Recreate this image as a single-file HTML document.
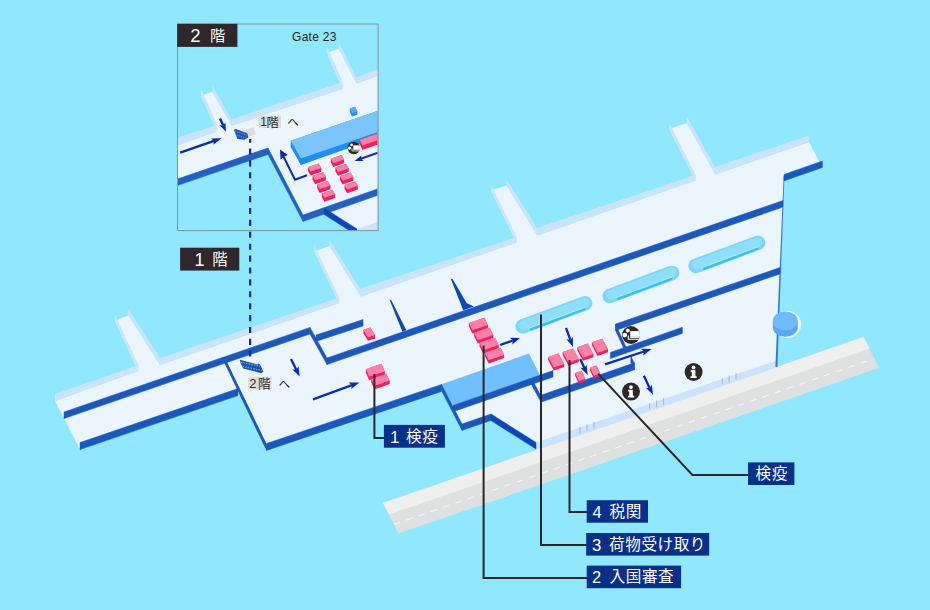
<!DOCTYPE html>
<html lang="ja"><head><meta charset="utf-8"><title>Airport floor map</title>
<style>
html,body{margin:0;padding:0;background:#90e8fe;}
body{width:930px;height:610px;overflow:hidden;font-family:"Liberation Sans","Noto Sans CJK JP",sans-serif;}
svg{display:block}
svg text{font-family:"Liberation Sans","Noto Sans CJK JP",sans-serif;}
</style></head><body>
<svg width="930" height="610" viewBox="0 0 930 610">
<rect width="930" height="610" fill="#90e8fe"/>
<polygon points="383.0,503.0 863.6,337.0 879.0,368.0 398.4,533.6" fill="#dfe0e0"/>
<polygon points="383.0,503.0 863.6,337.0 869.3,348.6 388.9,514.6" fill="#efefef"/>
<line x1="394" y1="524.4" x2="874" y2="358.7" stroke="#fafafa" stroke-width="0.9" stroke-dasharray="6.4 6.6"/>
<polygon points="55.0,401.0 138.4,371.0 160.0,365.0 339.0,303.0 361.0,296.4 516.6,242.4 537.4,235.6 695.6,180.6 715.4,174.4 809.0,142.0 822.4,167.4 784.0,181.0 776.6,366.2 536.0,449.0 491.0,420.4 462.0,430.4 444.0,390.0 266.5,450.0 240.0,394.6 80.0,449.2" fill="#eaf5fd"/>
<polygon points="115.0,321.0 128.5,315.2 160.0,365.0 162.0,369.0 140.4,375.0 138.4,371.0" fill="#eaf5fd"/>
<polygon points="115.0,315.0 115.0,321.0 138.4,371.0 138.4,365.2" fill="#cbe4fd"/>
<polygon points="128.5,309.2 128.5,315.2 160.0,365.0 160.0,358.0" fill="#cbe4fd"/>
<polygon points="314.4,251.6 329.6,246.0 361.0,296.4 363.0,300.4 341.0,307.0 339.0,303.0" fill="#eaf5fd"/>
<polygon points="314.4,245.6 314.4,251.6 339.0,303.0 339.0,297.4" fill="#cbe4fd"/>
<polygon points="329.6,240.0 329.6,246.0 361.0,296.4 360.0,289.0" fill="#cbe4fd"/>
<polygon points="491.0,190.4 506.6,185.4 537.4,235.6 539.4,239.6 518.6,246.4 516.6,242.4" fill="#eaf5fd"/>
<polygon points="491.0,184.4 491.0,190.4 516.6,242.4 516.6,237.0" fill="#cbe4fd"/>
<polygon points="506.6,179.4 506.6,185.4 537.4,235.6 537.0,228.0" fill="#cbe4fd"/>
<polygon points="669.4,129.0 687.0,123.0 715.4,174.4 717.4,178.4 697.6,184.6 695.6,180.6" fill="#eaf5fd"/>
<polygon points="669.4,123.0 669.4,129.0 695.6,180.6 695.6,175.0" fill="#cbe4fd"/>
<polygon points="687.0,117.0 687.0,123.0 715.4,174.4 715.0,167.0" fill="#cbe4fd"/>
<polygon points="55.0,394.0 138.4,365.2 138.4,371.0 55.0,401.0" fill="#cbe4fd"/>
<polygon points="160.0,358.0 339.0,297.4 339.0,303.0 160.0,365.0" fill="#cbe4fd"/>
<polygon points="360.0,289.0 516.6,237.0 516.6,242.4 361.0,296.4" fill="#cbe4fd"/>
<polygon points="537.0,228.0 695.6,175.0 695.6,180.6 537.4,235.6" fill="#cbe4fd"/>
<polygon points="715.0,167.0 809.0,135.4 809.0,142.0 715.4,174.4" fill="#cbe4fd"/>
<polygon points="536.0,442.5 776.8,360.4 776.6,367.4 536.0,450.4" fill="#cbe4fd"/>
<line x1="580.0" y1="426.9" x2="580.0" y2="433.4" stroke="#9aa9bd" stroke-width="0.8"/>
<line x1="587.0" y1="424.4" x2="587.0" y2="430.9" stroke="#9aa9bd" stroke-width="0.8"/>
<line x1="594.0" y1="422.0" x2="594.0" y2="428.5" stroke="#9aa9bd" stroke-width="0.8"/>
<line x1="649.6" y1="402.9" x2="649.6" y2="409.4" stroke="#9aa9bd" stroke-width="0.8"/>
<line x1="656.6" y1="400.5" x2="656.6" y2="407.0" stroke="#9aa9bd" stroke-width="0.8"/>
<line x1="663.6" y1="398.1" x2="663.6" y2="404.6" stroke="#9aa9bd" stroke-width="0.8"/>
<line x1="722.3" y1="377.9" x2="722.3" y2="384.4" stroke="#9aa9bd" stroke-width="0.8"/>
<line x1="729.1" y1="375.5" x2="729.1" y2="382.0" stroke="#9aa9bd" stroke-width="0.8"/>
<line x1="736.0" y1="373.2" x2="736.0" y2="379.7" stroke="#9aa9bd" stroke-width="0.8"/>
<polygon points="783.7,176.0 784.5,176.0 777.4,367.0 775.4,367.0" fill="#3d74cc"/>
<polygon points="441.6,384.2 529.0,353.6 540.0,375.2 453.0,405.4" fill="#70c0fd"/>
<polygon points="453.0,405.4 553.0,370.6 553.0,377.0 453.0,411.8" fill="#1b58bd" stroke="#1b58bd" stroke-width="0.5"/>
<polygon points="64.0,412.0 310.0,327.4 310.0,334.0 64.0,418.6" fill="#1b58bd" stroke="#1b58bd" stroke-width="0.5"/>
<polygon points="310.0,327.4 327.0,358.0 327.0,364.6 310.0,334.0" fill="#1b58bd" stroke="#1b58bd" stroke-width="0.5"/>
<polygon points="327.0,358.0 783.0,200.5 783.0,207.1 327.0,364.6" fill="#1b58bd" stroke="#1b58bd" stroke-width="0.5"/>
<polygon points="80.0,442.6 238.0,388.6 238.0,395.6 80.0,449.6" fill="#1b58bd" stroke="#1b58bd" stroke-width="0.5"/>
<polygon points="221.8,357.5 224.8,357.5 269.0,449.0 266.5,450.2 264.4,446.5" fill="#1b58bd"/>
<polygon points="266.5,443.5 441.6,384.4 441.6,391.4 266.5,450.5" fill="#1b58bd" stroke="#1b58bd" stroke-width="0.5"/>
<polygon points="441.6,384.4 462.0,424.0 462.0,430.4 441.6,390.8" fill="#1b58bd" stroke="#1b58bd" stroke-width="0.5"/>
<polygon points="462.0,424.0 491.0,414.0 491.0,420.4 462.0,430.4" fill="#1b58bd" stroke="#1b58bd" stroke-width="0.5"/>
<polygon points="491.0,414.0 536.0,442.5 536.0,449.1 491.0,420.6" fill="#0a47b8" stroke="#0a47b8" stroke-width="0.5"/>
<polygon points="784.0,174.4 822.4,161.0 822.4,167.5 784.0,180.9" fill="#1b58bd" stroke="#1b58bd" stroke-width="0.5"/>
<polygon points="316.0,335.0 363.0,319.6 363.0,326.0 316.0,341.4" fill="#1b58bd" stroke="#1b58bd" stroke-width="0.5"/>
<polygon points="626.0,347.0 615.6,324.0 615.6,330.4 626.0,353.4" fill="#1b58bd" stroke="#1b58bd" stroke-width="0.5"/>
<polygon points="615.6,324.0 780.0,267.5 780.0,273.9 615.6,330.4" fill="#1b58bd" stroke="#1b58bd" stroke-width="0.5"/>
<polygon points="610.4,352.4 682.4,327.2 682.4,333.4 610.4,358.6" fill="#1b58bd" stroke="#1b58bd" stroke-width="0.5"/>
<polygon points="531.6,378.6 541.0,396.0 541.0,402.2 531.6,384.8" fill="#1b58bd" stroke="#1b58bd" stroke-width="0.5"/>
<polygon points="541.0,395.2 634.4,362.8 634.4,369.8 541.0,402.2" fill="#1b58bd" stroke="#1b58bd" stroke-width="0.5"/>
<polygon points="630.8,356.0 634.4,363.2 634.4,369.8 630.8,362.6" fill="#1b58bd" stroke="#1b58bd" stroke-width="0.5"/>
<polygon points="389.5,299.4 391.3,300.2 406.2,330.0 402.4,331.8" fill="#0a47b8"/>
<polygon points="450.7,278.4 452.7,279.2 466.6,303.0 473.8,306.4 463.2,310.2" fill="#0a47b8"/>
<line x1="522.7" y1="326.4" x2="585.1" y2="303.3" stroke="#7cd5fa" stroke-width="14.5" stroke-linecap="round"/>
<line x1="523.5" y1="325.4" x2="584.3" y2="302.7" stroke="#8ddffc" stroke-width="9.7" stroke-linecap="round"/>
<polygon points="529.7,328.2 585.1,307.7 585.3,310.1 530.7,330.7" fill="#33c2f8"/>
<line x1="528.2" y1="328.4" x2="585.1" y2="307.3" stroke="#b9efff" stroke-width="0.8"/>
<line x1="609.7" y1="296.0" x2="672.1" y2="272.9" stroke="#7cd5fa" stroke-width="14.5" stroke-linecap="round"/>
<line x1="610.5" y1="295.0" x2="671.3" y2="272.3" stroke="#8ddffc" stroke-width="9.7" stroke-linecap="round"/>
<polygon points="616.7,297.8 672.1,277.3 672.3,279.7 617.7,300.3" fill="#33c2f8"/>
<line x1="615.2" y1="298.0" x2="672.1" y2="276.9" stroke="#b9efff" stroke-width="0.8"/>
<line x1="695.7" y1="265.9" x2="758.1" y2="242.8" stroke="#7cd5fa" stroke-width="14.5" stroke-linecap="round"/>
<line x1="696.5" y1="264.9" x2="757.3" y2="242.2" stroke="#8ddffc" stroke-width="9.7" stroke-linecap="round"/>
<polygon points="702.7,267.7 758.1,247.2 758.3,249.6 703.7,270.2" fill="#33c2f8"/>
<line x1="701.2" y1="267.9" x2="758.1" y2="246.8" stroke="#b9efff" stroke-width="0.8"/>
<circle cx="787.6" cy="324.3" r="13.6" fill="#eaf5fd"/>
<path d="M772.8,321 v6.3 a12.5,9.4 0 0 0 25,0 v-6.3 z" fill="#58a9fb"/>
<ellipse cx="785.3" cy="321" rx="12.5" ry="9.5" fill="#70bbfd"/>
<polygon points="363.4,329.8 363.4,333.2 368.0,340.8 375.0,338.4 375.0,335.0 370.4,327.4" fill="#f81d5c"/>
<polygon points="363.4,329.8 370.4,327.4 375.0,335.0 368.0,337.4" fill="#fe80a6"/>
<polygon points="365.8,369.2 365.8,372.6 369.2,380.2 384.8,374.8 384.8,371.4 381.4,363.8" fill="#f81d5c"/>
<polygon points="365.8,369.2 381.4,363.8 384.8,371.4 369.2,376.8" fill="#fe80a6"/>
<polygon points="371.2,379.0 371.2,382.4 374.6,389.2 389.6,384.0 389.6,380.6 386.2,373.8" fill="#f81d5c"/>
<polygon points="371.2,379.0 386.2,373.8 389.6,380.6 374.6,385.8" fill="#fe80a6"/>
<polygon points="468.8,323.1 468.8,326.2 472.4,333.4 487.9,328.1 487.9,325.0 484.3,317.8" fill="#f81d5c"/>
<polygon points="468.8,323.1 484.3,317.8 487.9,325.0 472.4,330.3" fill="#fe80a6"/>
<polygon points="474.2,333.1 474.2,336.2 477.8,343.4 493.3,338.1 493.3,335.0 489.7,327.8" fill="#f81d5c"/>
<polygon points="474.2,333.1 489.7,327.8 493.3,335.0 477.8,340.3" fill="#fe80a6"/>
<polygon points="479.6,343.1 479.6,346.2 483.2,353.4 498.7,348.1 498.7,345.0 495.1,337.8" fill="#f81d5c"/>
<polygon points="479.6,343.1 495.1,337.8 498.7,345.0 483.2,350.3" fill="#fe80a6"/>
<polygon points="485.0,353.1 485.0,356.2 488.6,363.4 504.1,358.1 504.1,355.0 500.5,347.8" fill="#f81d5c"/>
<polygon points="485.0,353.1 500.5,347.8 504.1,355.0 488.6,360.3" fill="#fe80a6"/>
<polygon points="548.1,357.0 548.1,360.0 553.8,370.6 564.2,367.0 564.2,364.0 558.5,353.4" fill="#f81d5c"/>
<polygon points="548.1,357.0 558.5,353.4 564.2,364.0 553.8,367.6" fill="#fe80a6"/>
<polygon points="562.7,352.1 562.7,355.1 568.4,365.7 578.8,362.1 578.8,359.1 573.1,348.5" fill="#f81d5c"/>
<polygon points="562.7,352.1 573.1,348.5 578.8,359.1 568.4,362.7" fill="#fe80a6"/>
<polygon points="577.3,347.2 577.3,350.2 583.0,360.8 593.4,357.2 593.4,354.2 587.7,343.6" fill="#f81d5c"/>
<polygon points="577.3,347.2 587.7,343.6 593.4,354.2 583.0,357.8" fill="#fe80a6"/>
<polygon points="591.9,342.3 591.9,345.3 597.6,355.9 608.0,352.3 608.0,349.3 602.3,338.7" fill="#f81d5c"/>
<polygon points="591.9,342.3 602.3,338.7 608.0,349.3 597.6,352.9" fill="#fe80a6"/>
<polygon points="575.1,373.0 575.1,375.7 578.9,383.7 585.3,381.5 585.3,378.8 581.5,370.8" fill="#f81d5c"/>
<polygon points="575.1,373.0 581.5,370.8 585.3,378.8 578.9,381.0" fill="#fe80a6"/>
<polygon points="590.0,367.7 590.0,370.4 593.8,378.4 600.2,376.2 600.2,373.5 596.4,365.5" fill="#f81d5c"/>
<polygon points="590.0,367.7 596.4,365.5 600.2,373.5 593.8,375.7" fill="#fe80a6"/>
<line x1="291.0" y1="359.0" x2="296.3" y2="369.7" stroke="#0a2bb2" stroke-width="2.3"/>
<polygon points="299.7,376.5 292.4,369.5 296.3,369.7 298.5,366.5" fill="#0a2bb2"/>
<line x1="313.0" y1="399.4" x2="351.9" y2="385.2" stroke="#0a2bb2" stroke-width="2.3"/>
<polygon points="359.4,382.4 351.2,389.1 351.9,385.2 348.8,382.6" fill="#0a2bb2"/>
<line x1="500.0" y1="345.0" x2="512.8" y2="340.5" stroke="#0a2bb2" stroke-width="2.3"/>
<polygon points="520.0,338.0 512.2,344.4 512.8,340.5 509.9,337.8" fill="#0a2bb2"/>
<line x1="566.0" y1="328.0" x2="570.4" y2="339.9" stroke="#0a2bb2" stroke-width="2.3"/>
<polygon points="573.0,347.0 566.5,339.3 570.4,339.9 572.9,336.9" fill="#0a2bb2"/>
<line x1="580.2" y1="359.1" x2="584.4" y2="368.1" stroke="#0a2bb2" stroke-width="2.3"/>
<polygon points="587.6,375.0 580.5,367.8 584.4,368.1 586.7,365.0" fill="#0a2bb2"/>
<line x1="605.0" y1="364.4" x2="644.0" y2="351.5" stroke="#0a2bb2" stroke-width="2.3"/>
<polygon points="651.6,349.0 643.2,355.5 644.0,351.5 641.0,348.8" fill="#0a2bb2"/>
<line x1="643.8" y1="375.7" x2="649.7" y2="388.0" stroke="#0a2bb2" stroke-width="2.3"/>
<polygon points="653.0,394.8 645.8,387.7 649.7,388.0 651.9,384.8" fill="#0a2bb2"/>
<circle cx="631.0" cy="391.6" r="9.0" fill="#2e282b"/>
<g transform="translate(631.0 391.6) scale(1.000)" fill="#fff"><circle cx="0" cy="-4.5" r="1.9"/><path d="M-2.9-1.9H1.8V4.2H3.1V6H-3.1V4.2H-1.8V-0.2H-2.9Z"/></g>
<circle cx="693.6" cy="372.0" r="9.0" fill="#2e282b"/>
<g transform="translate(693.6 372.0) scale(1.000)" fill="#fff"><circle cx="0" cy="-4.5" r="1.9"/><path d="M-2.9-1.9H1.8V4.2H3.1V6H-3.1V4.2H-1.8V-0.2H-2.9Z"/></g>
<circle cx="631.0" cy="335.0" r="9.0" fill="#2e282b"/>
<clipPath id="bc1"><circle cx="0" cy="0" r="9"/></clipPath>
<g transform="translate(631.0 335.0) scale(1.000)" clip-path="url(#bc1)"><circle cx="-6.2" cy="0.1" r="2.3" fill="#fff"/><circle cx="-3.2" cy="-4.5" r="1.9" fill="#fff"/><rect x="-0.8" y="-3.9" width="11" height="6.9" fill="#fff"/><rect x="-0.8" y="1.6" width="11" height="0.7" fill="#b5b5b5"/><path d="M-2.7,0.4V4.3H8.6" fill="none" stroke="#fff" stroke-width="1.1"/></g>
<clipPath id="ic"><rect x="178" y="24.5" width="199.6" height="205.6"/></clipPath>
<g clip-path="url(#ic)">
<polygon points="170.0,147.6 217.1,131.6 231.8,125.8 342.7,88.7 356.7,83.4 380.0,75.0 380.0,188.0 303.0,215.0 268.0,148.0 170.0,181.6" fill="#eaf5fd"/>
<polygon points="324.3,208.2 357.0,229.0 370.0,238.0 380.0,238.0 380.0,186.0" fill="#eaf5fd"/>
<polygon points="201.2,95.4 212.6,91.8 231.8,125.8 233.8,129.8 219.1,135.6 217.1,131.6" fill="#eaf5fd"/>
<polygon points="201.2,89.2 201.2,95.4 217.1,131.6 217.1,125.0" fill="#cbe4fd"/>
<polygon points="212.6,85.6 212.6,91.8 231.8,125.8 231.1,119.5" fill="#cbe4fd"/>
<polygon points="326.9,52.7 338.7,48.7 356.7,83.4 358.7,87.4 344.7,92.7 342.7,88.7" fill="#eaf5fd"/>
<polygon points="326.9,46.5 326.9,52.7 342.7,88.7 342.7,82.0" fill="#cbe4fd"/>
<polygon points="338.7,42.5 338.7,48.7 356.7,83.4 356.0,77.2" fill="#cbe4fd"/>
<polygon points="170.0,140.2 217.1,125.0 217.1,131.6 170.0,147.6" fill="#cbe4fd"/>
<polygon points="231.1,119.5 342.7,82.0 342.7,88.7 231.8,125.8" fill="#cbe4fd"/>
<polygon points="356.0,77.2 380.0,68.6 380.0,75.0 356.7,83.4" fill="#cbe4fd"/>
<polygon points="170.0,181.6 268.0,148.0 268.0,154.5 170.0,188.1" fill="#2360c2" stroke="#2360c2" stroke-width="0.5"/>
<polygon points="268.0,148.0 303.0,215.0 303.0,221.5 268.0,154.5" fill="#2360c2" stroke="#2360c2" stroke-width="0.5"/>
<polygon points="303.0,215.0 380.0,188.0 380.0,194.5 303.0,221.5" fill="#2360c2" stroke="#2360c2" stroke-width="0.5"/>
<polygon points="324.3,208.2 357.0,229.0 357.0,235.4 324.3,214.6" fill="#0a47b8" stroke="#0a47b8" stroke-width="0.5"/>
<polygon points="357.0,229.0 380.0,221.0 380.0,236.0 357.0,236.0" fill="#cbe4fd"/>
<polygon points="290.7,140.8 380.0,110.0 380.0,137.0 300.9,165.0" fill="#1c8efb"/>
<polygon points="290.7,140.8 290.7,147.0 300.9,165.0 300.9,158.6" fill="#1c8efb"/>
<polygon points="290.7,140.8 380.0,110.0 380.0,131.3 300.9,158.6" fill="#7cc4fd"/>
<polygon points="349.8,108.5 349.8,111.9 352.1,116.5 357.3,114.7 357.3,111.3 355.0,106.7" fill="#2a93f6"/>
<polygon points="349.8,108.5 355.0,106.7 357.3,111.3 352.1,113.1" fill="#55aef9"/>
<polygon points="308.0,167.2 308.0,171.0 310.6,175.4 321.2,171.7 321.2,167.9 318.6,163.5" fill="#f81d5c"/>
<polygon points="308.0,167.2 318.6,163.5 321.2,167.9 310.6,171.6" fill="#fe80a6"/>
<polygon points="312.6,175.9 312.6,179.8 315.2,184.2 325.8,180.5 325.8,176.7 323.2,172.3" fill="#f81d5c"/>
<polygon points="312.6,175.9 323.2,172.3 325.8,176.7 315.2,180.3" fill="#fe80a6"/>
<polygon points="317.2,184.7 317.2,188.5 319.8,192.9 330.4,189.2 330.4,185.4 327.8,181.0" fill="#f81d5c"/>
<polygon points="317.2,184.7 327.8,181.0 330.4,185.4 319.8,189.1" fill="#fe80a6"/>
<polygon points="321.8,193.4 321.8,197.2 324.4,201.7 335.0,198.0 335.0,194.2 332.4,189.8" fill="#f81d5c"/>
<polygon points="321.8,193.4 332.4,189.8 335.0,194.2 324.4,197.8" fill="#fe80a6"/>
<polygon points="330.8,158.8 330.8,162.6 333.4,167.0 344.0,163.3 344.0,159.5 341.4,155.1" fill="#f81d5c"/>
<polygon points="330.8,158.8 341.4,155.1 344.0,159.5 333.4,163.2" fill="#fe80a6"/>
<polygon points="335.4,167.6 335.4,171.4 338.0,175.8 348.6,172.1 348.6,168.3 346.0,163.9" fill="#f81d5c"/>
<polygon points="335.4,167.6 346.0,163.9 348.6,168.3 338.0,172.0" fill="#fe80a6"/>
<polygon points="340.0,176.3 340.0,180.1 342.6,184.5 353.2,180.8 353.2,177.0 350.6,172.6" fill="#f81d5c"/>
<polygon points="340.0,176.3 350.6,172.6 353.2,177.0 342.6,180.7" fill="#fe80a6"/>
<polygon points="344.6,185.1 344.6,188.9 347.2,193.3 357.8,189.6 357.8,185.8 355.2,181.4" fill="#f81d5c"/>
<polygon points="344.6,185.1 355.2,181.4 357.8,185.8 347.2,189.5" fill="#fe80a6"/>
<polygon points="359.7,139.9 359.7,144.3 362.4,149.8 384.4,142.2 384.4,137.8 381.7,132.3" fill="#f81d5c"/>
<polygon points="359.7,139.9 381.7,132.3 384.4,137.8 362.4,145.4" fill="#fe80a6"/>
<circle cx="353.8" cy="148.0" r="6.2" fill="#2e282b"/>
<clipPath id="bc2"><circle cx="0" cy="0" r="9"/></clipPath>
<g transform="translate(353.8 148.0) scale(0.689)" clip-path="url(#bc2)"><circle cx="-6.2" cy="0.1" r="2.3" fill="#fff"/><circle cx="-3.2" cy="-4.5" r="1.9" fill="#fff"/><rect x="-0.8" y="-3.9" width="11" height="6.9" fill="#fff"/><rect x="-0.8" y="1.6" width="11" height="0.7" fill="#b5b5b5"/><path d="M-2.7,0.4V4.3H8.6" fill="none" stroke="#fff" stroke-width="1.1"/></g>
<line x1="378.0" y1="152.6" x2="360.9" y2="158.7" stroke="#0a2bb2" stroke-width="2.0"/>
<polygon points="354.6,161.0 361.5,155.3 360.9,158.7 363.5,161.0" fill="#0a2bb2"/>
<polyline points="307,175.2 295,179.8 283,155.5" fill="none" stroke="#0a2bb2" stroke-width="2"/>
<polygon points="280.0,149.4 287.8,155.0 283.6,156.8 280.6,159.6" fill="#0a2bb2"/>
<line x1="180.2" y1="152.6" x2="214.0" y2="140.9" stroke="#0a2bb2" stroke-width="2.4"/>
<polygon points="221.6,138.3 213.3,144.8 214.0,140.9 211.0,138.4" fill="#0a2bb2"/>
<line x1="220.0" y1="118.4" x2="223.2" y2="125.5" stroke="#0a2bb2" stroke-width="2.4"/>
<polygon points="226.0,131.8 219.6,125.3 223.2,125.5 225.4,122.6" fill="#0a2bb2"/>
<polygon points="243,130.8 253.3,127.2 255.8,134.2 248.8,136.7" fill="#dcdcdc"/>
</g>
<line x1="250.1" y1="138.9" x2="250.1" y2="356.6" stroke="#0a2bb2" stroke-width="2.2" stroke-dasharray="6.1 5.8" stroke-dashoffset="2.35"/>
<g clip-path="url(#ic)">
<polygon points="233.9,129.7 235.8,128.9 247.3,133.3 248.4,137.4 244.3,139.7 237.5,138.9 235.8,135" fill="#1b55b6"/>
<line x1="234.8" y1="131.4" x2="247.4" y2="135.2" stroke="#c9c3c6" stroke-width="0.6" stroke-dasharray="1.4 0.9"/>
<line x1="236.4" y1="135.2" x2="246.6" y2="138.1" stroke="#c9c3c6" stroke-width="0.6" stroke-dasharray="1.4 0.9"/>
<rect x="258.6" y="115.6" width="22.4" height="12.4" fill="#dcdcdc"/>
<text font-size="12.2" fill="#2a2a2a"><tspan x="260.3" y="126.2" font-size="12">1</tspan><tspan x="266.4" y="126.6">階</tspan><tspan x="287.2" y="126.4" font-size="11.6" fill="#222">へ</tspan></text>
</g>
<rect x="177.500" y="24" width="200.6" height="206.6" fill="none" stroke="#8593a1" stroke-width="1"/>
<rect x="177.200" y="23.8" width="60.2" height="23.1" fill="#2e282b"/>
<text fill="#fff"><tspan x="190.200" y="42.0" font-size="18.500">2</tspan><tspan x="210.000" y="41.2" font-size="15.200">階</tspan></text>
<text x="292" y="40.6" font-size="12" letter-spacing="0.3" fill="#222">Gate 23</text>
<g transform="translate(239.75 359.70)">
<polygon points="0,0 17.85,4.7 18.95,3.8 20.25,4.7 21.55,7 22.35,9.3 23.65,11.7 21.55,13.6 3.45,8.7 2.15,6.4 0.65,2.7" fill="#1b55b6"/>
<line x1="0.8" y1="2.5" x2="20.3" y2="6.6" stroke="#c9c3c6" stroke-width="0.7" stroke-dasharray="1.7 1"/>
<line x1="2.6" y1="6.7" x2="22.3" y2="10.8" stroke="#c9c3c6" stroke-width="0.7" stroke-dasharray="1.7 1"/>
</g>
<rect x="180.100" y="247.7" width="59.2" height="22.9" fill="#2e282b"/>
<text fill="#fff"><tspan x="194.500" y="265.5" font-size="18">1</tspan><tspan x="212.200" y="265.0" font-size="15.400">階</tspan></text>
<rect x="248.200" y="376.7" width="23.4" height="12.9" fill="#dcdcdc"/>
<text font-size="12.600" fill="#2a2a2a"><tspan x="249.300" y="387.7" font-size="12.900">2</tspan><tspan x="258.000" y="387.9">階</tspan><tspan x="278.600" y="387.6" font-size="11.600" fill="#222">へ</tspan></text>
<polyline points="374.4,374.0 374.4,438.0 385.0,438.0" fill="none" stroke="#2b2627" stroke-width="2"/>
<polyline points="483.6,345.6 483.6,578.0 587.0,578.0" fill="none" stroke="#2b2627" stroke-width="2"/>
<polyline points="541.0,314.4 541.0,545.0 587.0,545.0" fill="none" stroke="#2b2627" stroke-width="2"/>
<polyline points="569.5,360.0 569.5,512.0 587.0,512.0" fill="none" stroke="#2b2627" stroke-width="2"/>
<polyline points="598.0,373.6 692.4,475.0 749.0,475.0" fill="none" stroke="#2b2627" stroke-width="2"/>
<rect x="383.900" y="424.9" width="61.0" height="22.800" fill="#06308a"/>
<text font-size="15.600" fill="#fff"><tspan x="390.000" y="442.5" font-size="17">1</tspan><tspan x="406.100 422.250" y="441.84">検疫</tspan></text>
<rect x="586.700" y="500.2" width="61.3" height="22.500" fill="#06308a"/>
<text font-size="15.600" fill="#fff"><tspan x="592.400" y="517.9" font-size="16.500">4</tspan><tspan x="609.600 625.750" y="516.99">税関</tspan></text>
<rect x="586.200" y="533.0" width="123.0" height="22.600" fill="#06308a"/>
<text font-size="15.600" fill="#fff"><tspan x="592.000" y="550.6" font-size="16.700">3</tspan><tspan x="609.100 625.250 641.400 657.550 673.700 689.850" y="549.84">荷物受け取り</tspan></text>
<rect x="586.700" y="565.6" width="94.4" height="22.600" fill="#06308a"/>
<text font-size="15.600" fill="#fff"><tspan x="592.000" y="583.0" font-size="16.400">2</tspan><tspan x="609.600 625.750 641.900 658.050" y="582.44">入国審査</tspan></text>
<rect x="748.000" y="462.4" width="46.4" height="22.600" fill="#06308a"/>
<text font-size="15.600" fill="#fff"><tspan x="755.600 771.750" y="479.24">検疫</tspan></text>
</svg>
</body></html>
